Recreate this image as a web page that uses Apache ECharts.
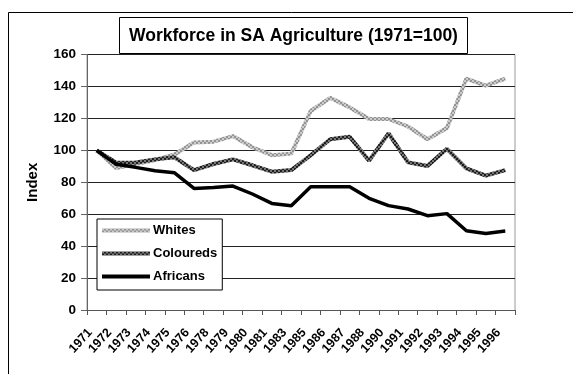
<!DOCTYPE html>
<html><head><meta charset="utf-8">
<script src="https://cdn.jsdelivr.net/npm/echarts@6/dist/echarts.min.js"></script>
<style>html,body{margin:0;padding:0;background:#fff}#c{width:573px;height:374px}</style>
</head><body><div id="c"></div>
<script>
const categories = ['1971','1972','1973','1974','1975','1976','1978','1979','1980','1981','1983','1985','1986','1987','1988','1990','1991','1992','1993','1994','1995','1996'];
const whites    = [100, 89, 91.5, 94, 97.5, 105, 105.5, 109, 102, 97, 98, 124.7, 133, 127, 119.7, 119.7, 115, 107, 114, 145, 140.6, 145];
const coloureds = [100, 92.3, 92.5, 94.4, 95.7, 87.7, 91.5, 94.4, 90.7, 86.7, 87.7, 97, 107, 108.6, 93.6, 110.7, 92.5, 90.2, 101, 88.8, 84.2, 87.7];
const africans  = [100, 91.3, 89.4, 87.3, 86, 76.2, 76.7, 77.7, 72.7, 66.8, 65.4, 77.3, 77.3, 77.3, 70, 65.4, 63.3, 59.1, 60.4, 49.7, 48, 49.5];
const yTicks = [0, 20, 40, 60, 80, 100, 120, 140, 160];
const titleText = 'Workforce in SA Agriculture (1971=100)';

function pat(c1, c2) {
  const cv = document.createElement('canvas');
  cv.width = 4; cv.height = 4;
  const g = cv.getContext('2d');
  g.fillStyle = c1; g.fillRect(0, 0, 4, 4);
  g.fillStyle = c2; g.fillRect(0, 0, 2, 2); g.fillRect(2, 2, 2, 2);
  return { image: cv, repeat: 'repeat' };
}
const F = 'Liberation Sans, Arial, sans-serif';
const wPat = pat('#949494', '#cccccc');
const cPat = pat('#1e1e1e', '#777777');
const bar = 'path://M0,0L48,0L48,4L0,4Z';
const chart = echarts.init(document.getElementById('c'), null, { renderer: 'canvas' });
chart.setOption({
  animation: false,
  backgroundColor: '#fff',
  graphic: [
    { type: 'rect', shape: { x: 8.5, y: 12.5, width: 700, height: 500 }, style: { fill: 'none', stroke: '#000', lineWidth: 1 }, silent: true, z: -10 },
    { type: 'rect', shape: { x: 87, y: 54.5, width: 428, height: 256 }, style: { fill: 'none', stroke: '#999', lineWidth: 1 }, silent: true, z: -5 },
    { type: 'rect', shape: { x: 119.5, y: 17.5, width: 348, height: 36 }, style: { fill: '#fff', stroke: '#000', lineWidth: 1 }, z: 10 },
    { type: 'text', x: 293.5, y: 36, style: { text: titleText, font: 'bold 17.5px ' + F, fill: '#000', textAlign: 'center', textVerticalAlign: 'middle' }, z: 11 }
  ],
  grid: { left: 87, right: 58, top: 54.7, bottom: 64, containLabel: false },
  legend: {
    orient: 'vertical', left: 97, top: 219,
    data: [
      { name: 'Whites', icon: bar, itemStyle: { color: wPat } },
      { name: 'Coloureds', icon: bar, itemStyle: { color: cPat } },
      { name: 'Africans', icon: bar, itemStyle: { color: '#000' } }
    ],
    backgroundColor: '#fff', borderColor: '#000', borderWidth: 1,
    padding: [5, 5, 7, 5], itemGap: 10, itemWidth: 48, itemHeight: 4,
    textStyle: { fontFamily: F, fontWeight: 'bold', fontSize: 13, color: '#000', padding: [0, 0, 0, -2] },
    z: 20
  },
  xAxis: {
    type: 'category', data: categories, boundaryGap: true,
    axisLine: { lineStyle: { color: '#555', width: 1 } },
    axisTick: { show: true, length: 5, lineStyle: { color: '#555' }, interval: 0 },
    axisLabel: { interval: 0, rotate: 48, fontFamily: F, fontWeight: 'bold', fontSize: 12.5, color: '#000', margin: 13, padding: [0, 10, 0, 0] }
  },
  yAxis: {
    type: 'value', min: 0, max: 160, interval: 20,
    name: 'Index', nameLocation: 'middle', nameGap: 47,
    nameTextStyle: { fontFamily: F, fontWeight: 'bold', fontSize: 15, color: '#000' },
    axisLine: { show: true, lineStyle: { color: '#666', width: 1 } },
    axisTick: { show: true, length: 6, lineStyle: { color: '#666' } },
    axisLabel: { fontFamily: F, fontWeight: 'bold', fontSize: 13.5, color: '#000', margin: 11,
      formatter: v => yTicks.includes(v) ? String(v) : '' },
    splitLine: { show: true, lineStyle: { color: '#222', width: 1 } }
  },
  series: [
    { name: 'Whites', type: 'line', data: whites, symbol: 'none', z: 3,
      lineStyle: { width: 4, color: wPat }, itemStyle: { color: wPat } },
    { name: 'Coloureds', type: 'line', data: coloureds, symbol: 'none', z: 4,
      lineStyle: { width: 4, color: cPat }, itemStyle: { color: cPat } },
    { name: 'Africans', type: 'line', data: africans, symbol: 'none', z: 5,
      lineStyle: { width: 3.5, color: '#000' }, itemStyle: { color: '#000' } }
  ]
});
</script></body></html>
